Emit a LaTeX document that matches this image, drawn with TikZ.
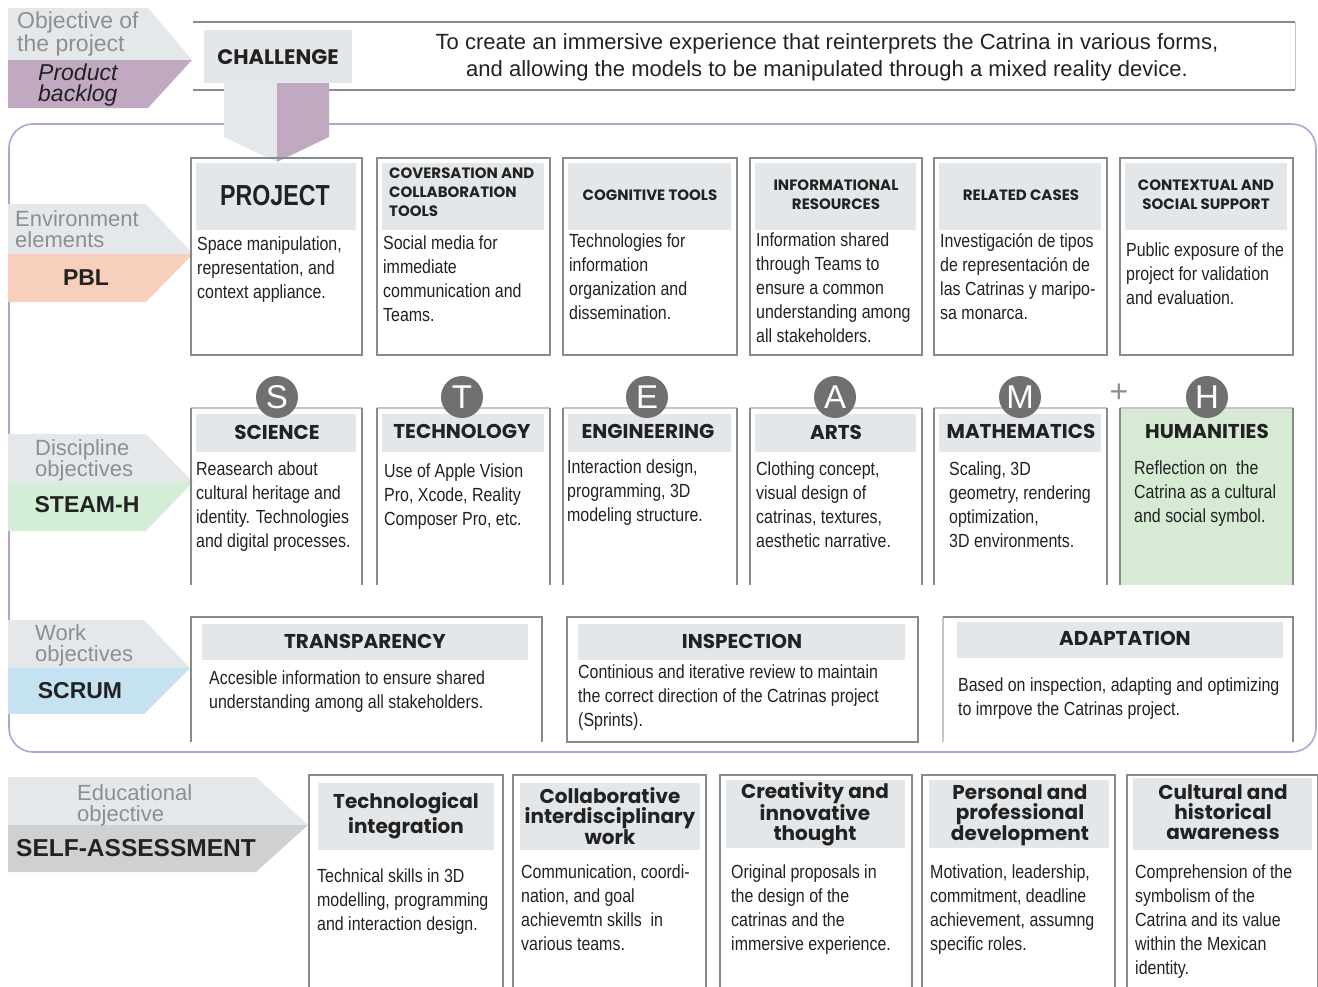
\documentclass[tikz,border=0pt]{standalone}
\usepackage{fontspec}
\setmainfont{Liberation Sans}
\newfontfamily\narrowf[FakeStretch=0.84]{Liberation Sans}
\newfontfamily\condf[FakeStretch=0.8]{Liberation Sans}
\newfontfamily\headf{Poppins}
\definecolor{hdrgray}{HTML}{E4E7EA}
\definecolor{arrgray}{HTML}{E5E8EB}
\definecolor{purp}{HTML}{C1A9C2}
\definecolor{salmon}{HTML}{F8CFBC}
\definecolor{mint}{HTML}{D4EDD6}
\definecolor{humgreen}{HTML}{D6EAD4}
\definecolor{skyb}{HTML}{C5E2F2}
\definecolor{selfgray}{HTML}{CFD0D2}
\definecolor{circ}{HTML}{707070}
\definecolor{lav}{HTML}{ABA5DA}
\definecolor{lbl}{HTML}{8E8E8E}
\definecolor{edge}{HTML}{8A8A8A}
\definecolor{edgel}{HTML}{C4C4C4}
\definecolor{ink}{HTML}{222222}
\tikzset{
 body/.style={anchor=north west, inner sep=0pt, align=left, text=ink, font=\narrowf\fontsize{19}{24}\selectfont},
 hd/.style={inner sep=0pt, align=center, text=ink, font=\headf\bfseries\fontsize{20}{20}\selectfont},
 hdsmall/.style={inner sep=0pt, align=center, text=ink, font=\headf\bfseries\fontsize{15}{19}\selectfont},
 graylbl/.style={anchor=north west, inner sep=0pt, align=left, text=lbl, font=\fontsize{22}{21}\selectfont},
 boldlbl/.style={inner sep=0pt, text=ink, font=\bfseries\fontsize{23}{23}\selectfont},
 letter/.style={circle, fill=circ, minimum size=42pt, inner sep=0pt, text=white, font=\fontsize{33}{33}\selectfont},
 hdrfill/.style={fill=hdrgray},
 frameline/.style={draw=edge, line width=1.1pt},
 lightline/.style={draw=edgel, line width=1.1pt},
}
\begin{document}
\begin{tikzpicture}[x=1pt,y=-1pt]
\useasboundingbox (0,0) rectangle (1318,986);
\fill[white] (0,0) rectangle (1318,986);

% ---------- top: objective ----------
\fill[arrgray] (8,8) -- (148,8) -- (192,60) -- (8,60) -- cycle;
\fill[purp] (8,60) -- (192,60) -- (148,108) -- (8,108) -- cycle;
\node[graylbl, font=\fontsize{23}{23}\selectfont] (objlbl) at (17,12) {Objective of\\the project};
\node[graylbl, text=ink, font=\itshape\fontsize{23}{21}\selectfont] (pblog) at (38,64) {Product\\backlog};

\draw[edge, line width=1.1pt] (193,22) -- (1295,22);
\draw[edge, line width=1.1pt] (193,90) -- (1295,90);
\draw[edgel, line width=0.8pt] (1295,22) -- (1295,90);
\fill[hdrfill] (204,30) rectangle (352,83);
\node[hd, font=\headf\bfseries\fontsize{21}{21}\selectfont] (challenge) at (278,57) {CHALLENGE};
\node[inner sep=0pt, align=center, text=ink, font=\fontsize{22}{27}\selectfont] (goal) at (827,57)
 {To create an immersive experience that reinterprets the Catrina in various forms,\\and allowing the models to be manipulated through a mixed reality device.};

% ---------- big frame ----------
\draw[lav, line width=1.6pt, rounded corners=24pt] (9,124) rectangle (1316,752);

% ---------- challenge -> project arrow ----------
\fill[arrgray] (224,83) -- (277,83) -- (277,162) -- (224,137) -- cycle;
\fill[purp] (277,83) -- (329,83) -- (329,137) -- (277,162) -- cycle;

% ---------- PBL row ----------
\fill[arrgray] (8,204) -- (146,204) -- (193,254) -- (8,254) -- cycle;
\fill[salmon] (8,254) -- (193,254) -- (146,302) -- (8,302) -- cycle;
\node[graylbl] (envlbl) at (15,210) {Environment\\elements};
\node[boldlbl] (pbl) at (86,278) {PBL};

\foreach \a/\b [count=\i] in {191/362,377/550,563/737,750/922,934/1107,1120/1293}{
  \draw[frameline] (\a,158) rectangle (\b,355);
  \fill[hdrfill] (\a+5,163) rectangle (\b-6,230);
}
\node[inner sep=0pt, text=ink, font=\condf\bfseries\fontsize{29}{29}\selectfont] (project) at (275,196) {PROJECT};
\node[hdsmall, anchor=north west, align=left] (conv) at (389,168) {COVERSATION AND\\COLLABORATION\\TOOLS};
\node[hdsmall] (cogn) at (650,195) {COGNITIVE TOOLS};
\node[hdsmall] (info) at (836,195) {INFORMATIONAL\\RESOURCES};
\node[hdsmall] (rel) at (1021,195) {RELATED CASES};
\node[hdsmall] (ctx) at (1206,195) {CONTEXTUAL AND\\SOCIAL SUPPORT};

\node[body] (b1) at (197,237) {Space manipulation,\\representation, and\\context appliance.};
\node[body] (b2) at (383,236) {Social media for\\immediate\\communication and\\Teams.};
\node[body] (b3) at (569,234) {Technologies for\\information\\organization and\\dissemination.};
\node[body] (b4) at (756,233) {Information shared\\through Teams to\\ensure a common\\understanding among\\all stakeholders.};
\node[body] (b5) at (940,233) {Investigación de tipos\\de representación de\\las Catrinas y maripo-\\sa monarca.};
\node[body] (b6) at (1126,243) {Public exposure of the\\project for validation\\and evaluation.};

% ---------- STEAM-H row ----------
\fill[arrgray] (8,434) -- (146,434) -- (193,482) -- (8,482) -- cycle;
\fill[mint] (8,482) -- (193,482) -- (146,531) -- (8,531) -- cycle;
\node[graylbl] (disclbl) at (35,439) {Discipline\\objectives};
\node[boldlbl] (steam) at (87,505) {STEAM-H};

\fill[humgreen] (1120,408) rectangle (1293,585);
\foreach \a/\b [count=\i] in {191/362,377/550,563/737,750/922,934/1107,1120/1293}{
  \draw[lightline] (\a,408) -- (\b,408);
  \draw[frameline] (\a,408) -- (\a,585);
  \draw[frameline] (\b,408) -- (\b,585);
}
\foreach \a/\b in {191/362,377/550,563/737,750/922,934/1107}{
  \fill[hdrfill] (\a+5,414) rectangle (\b-6,452);
}
\node[hd] (sci) at (277,432) {SCIENCE};
\node[hd] (tec) at (462,431) {TECHNOLOGY};
\node[hd] (eng) at (648,431) {ENGINEERING};
\node[hd] (art) at (836,432) {ARTS};
\node[hd] (mat) at (1021,431) {MATHEMATICS};
\node[hd] (hum) at (1207,431) {HUMANITIES};

\node[letter] (cS) at (277,397) {S};
\node[letter] (cT) at (462,397) {T};
\node[letter] (cE) at (647,397) {E};
\node[letter] (cA) at (835,397) {A};
\node[letter] (cM) at (1020,397) {M};
\node[letter] (cH) at (1207,397) {H};
\node[inner sep=0pt, text=lbl, font=\fontsize{32}{32}\selectfont] (plus) at (1119,393) {+};

\node[body] (s1) at (196,462) {Reasearch about\\cultural heritage and\\identity. Technologies\\and digital processes.};
\node[body] (s2) at (384,464) {Use of Apple Vision\\Pro, Xcode, Reality\\Composer Pro, etc.};
\node[body] (s3) at (567,460) {Interaction design,\\programming, 3D\\modeling structure.};
\node[body] (s4) at (756,462) {Clothing concept,\\visual design of\\catrinas, textures,\\aesthetic narrative.};
\node[body] (s5) at (949,462) {Scaling, 3D\\geometry, rendering\\optimization,\\3D environments.};
\node[body] (s6) at (1134,461) {Reflection on\ \ the\\Catrina as a cultural\\and social symbol.};

% ---------- SCRUM row ----------
\fill[arrgray] (8,620) -- (144,620) -- (190,668) -- (8,668) -- cycle;
\fill[skyb] (8,668) -- (190,668) -- (144,714) -- (8,714) -- cycle;
\node[graylbl] (worklbl) at (35,624) {Work\\objectives};
\node[boldlbl] (scrum) at (80,691) {SCRUM};

\draw[frameline] (191,742) -- (191,617) -- (542,617) -- (542,742);
\draw[frameline] (567,617) rectangle (918,742);
\draw[lightline] (943,742) -- (943,617);
\draw[frameline] (943,617) -- (1293,617) -- (1293,742);
\fill[hdrfill] (202,624) rectangle (528,660);
\fill[hdrfill] (578,624) rectangle (905,660);
\fill[hdrfill] (957,622) rectangle (1283,658);
\node[hd] (transp) at (365,641) {TRANSPARENCY};
\node[hd] (insp) at (742,641) {INSPECTION};
\node[hd] (adapt) at (1125,638) {ADAPTATION};
\node[body] (t1) at (209,671) {Accesible information to ensure shared\\understanding among all stakeholders.};
\node[body] (t2) at (578,665) {Continious and iterative review to maintain\\the correct direction of the Catrinas project\\(Sprints).};
\node[body] (t3) at (958,678) {Based on inspection, adapting and optimizing\\to imrpove the Catrinas project.};

% ---------- SELF-ASSESSMENT row ----------
\fill[arrgray] (8,777) -- (256,777) -- (308,825) -- (8,825) -- cycle;
\fill[selfgray] (8,825) -- (308,825) -- (256,872) -- (8,872) -- cycle;
\node[graylbl] (edulbl) at (77,784) {Educational\\objective};
\node[boldlbl, font=\bfseries\fontsize{24.5}{24.5}\selectfont] (self) at (136,848) {SELF-ASSESSMENT};

\foreach \a/\b in {309/503,513/706,720/912,922/1115,1127/1318}{
  \draw[frameline] (\a,990) -- (\a,775) -- (\b,775) -- (\b,990);
}
\fill[hdrfill] (318,783) rectangle (494,850);
\fill[hdrfill] (520,783) rectangle (700,850);
\fill[hdrfill] (726,780) rectangle (905,848);
\fill[hdrfill] (929,780) rectangle (1109,848);
\fill[hdrfill] (1133,778) rectangle (1312,850);
\node[hd, font=\headf\bfseries\fontsize{20}{25}\selectfont] (e1) at (406,816) {Technological\\integration};
\node[hd] (e2) at (610,816) {Collaborative\\interdisciplinary\\work};
\node[hd] (e3) at (815,814) {Creativity and\\innovative\\thought};
\node[hd] (e4) at (1020,815) {Personal and\\professional\\development};
\node[hd] (e5) at (1223,812) {Cultural and\\historical\\awareness};
\node[body] (d1) at (317,869) {Technical skills in 3D\\modelling, programming\\and interaction design.};
\node[body] (d2) at (521,865) {Communication, coordi-\\nation, and goal\\achievemtn skills\ \ in\\various teams.};
\node[body] (d3) at (731,865) {Original proposals in\\the design of the\\catrinas and the\\immersive experience.};
\node[body] (d4) at (930,865) {Motivation, leadership,\\commitment, deadline\\achievement, assumng\\specific roles.};
\node[body] (d5) at (1135,865) {Comprehension of the\\symbolism of the\\Catrina and its value\\within the Mexican\\identity.};
\end{tikzpicture}
\end{document}
